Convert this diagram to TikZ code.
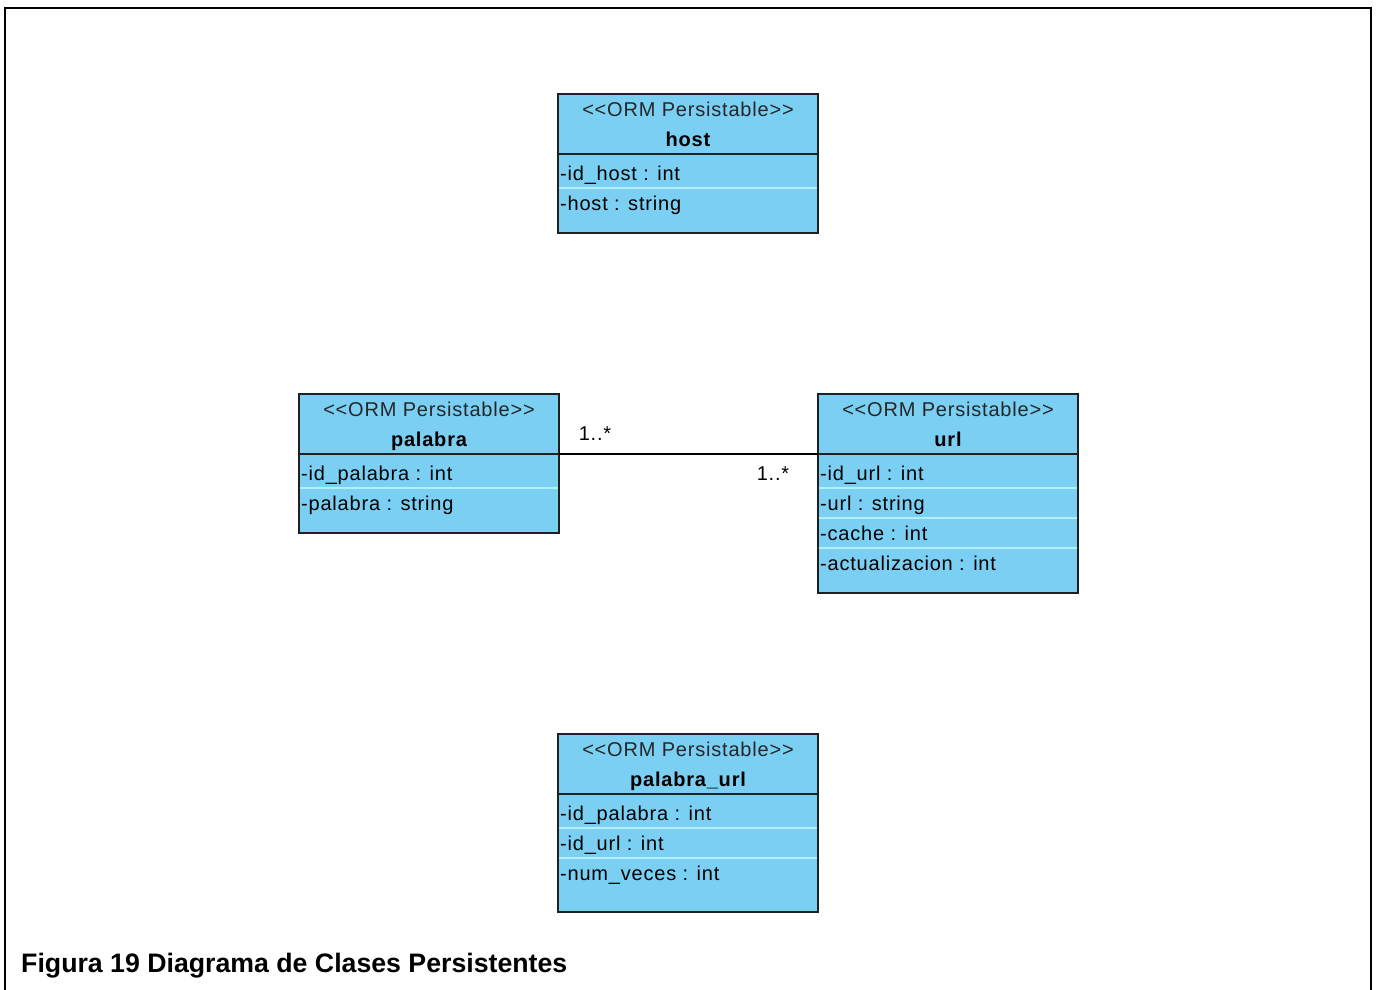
\documentclass[tikz,border=0pt]{standalone}
\usepackage{fontspec}
\setmainfont{Liberation Sans}
\newfontfamily\umlfont[LetterSpace=4]{Liberation Sans}
\usetikzlibrary{calc}

\definecolor{ormfill}{RGB}{122,207,243}
\definecolor{ormrule}{RGB}{178,240,255}
\definecolor{ormedge}{RGB}{32,32,32}

\tikzset{
  classbox/.style={fill=ormfill, draw=ormedge, line width=1.5pt, rectangle,
    minimum width=260, inner sep=0, outer sep=0, anchor=north west},
  headline/.style={draw=ormedge, line width=1.5pt},
  rowline/.style={draw=ormrule, line width=2pt},
  stereo/.style={anchor=base, inner sep=0, text=black!85,
    font=\umlfont\fontsize{20}{23}\selectfont},
  cname/.style={anchor=base, inner sep=0,
    font=\umlfont\bfseries\fontsize{20}{23}\selectfont},
  attr/.style={anchor=base west, inner sep=0,
    font=\umlfont\fontsize{20}{23}\selectfont},
  mult/.style={anchor=base, inner sep=0,
    font=\umlfont\fontsize{20}{23}\selectfont},
  assoc/.style={draw=black, line width=1.5pt},
  frame/.style={draw=black, line width=2.5pt},
  caption/.style={anchor=base west, inner sep=0,
    font=\bfseries\fontsize{26.7}{30}\selectfont}
}

% #1 node name, #2 left, #3 top, #4 height, #5 class name, #6 attributes
\newcommand{\ormclass}[6]{%
  \node[classbox, minimum height=#4] (#1) at (#2,#3) {};
  \node[stereo] (#1-st) at ($(#1.north)+(0,22)$)
    {\textless\textless ORM Persistable\textgreater\textgreater};
  \node[cname] (#1-nm) at ($(#1.north)+(0,52)$) {#5};
  \coordinate (#1-sepL) at ($(#1.north west)+(0,60)$);
  \coordinate (#1-sepR) at ($(#1.north east)+(0,60)$);
  \foreach \txt [count=\i from 0] in {#6} {
    \ifnum\i>0
      \draw[rowline] ($(#1-sepL)+(1,{4+30*\i})$) -- ($(#1-sepR)+(-1,{4+30*\i})$);
    \fi
    \node[attr] (#1-a\i) at ($(#1-sepL)+(2,{26+30*\i})$) {\txt};
  }
  \draw[headline] (#1-sepL) -- (#1-sepR);
}

\begin{document}
\begin{tikzpicture}[x=1pt, y=-1pt]
  \useasboundingbox (0,0) rectangle (1378,990);
  \fill[white] (0,0) rectangle (1378,990);

  % page frame (open at the bottom)
  \draw[frame] (5,990) -- (5,8) -- (1371,8) -- (1371,990);

  \ormclass{host}{558}{94}{139}{host}{-id\_host : int, -host : string}
  \ormclass{palabra}{299}{394}{139}{palabra}{-id\_palabra : int, -palabra : string}
  \ormclass{url}{818}{394}{199}{url}{-id\_url : int, -url : string, -cache : int, -actualizacion : int}
  \ormclass{palabraurl}{558}{734}{178}{palabra\_url}{-id\_palabra : int, -id\_url : int, -num\_veces : int}

  % association palabra -- url
  \draw[assoc] (palabra-sepR) -- (url-sepL);
  \node[mult] (mult-p) at (595,440) {1..*};
  \node[mult] (mult-u) at (773,480) {1..*};

  \node[caption] (caption) at (21,972) {Figura 19 Diagrama de Clases Persistentes};
\end{tikzpicture}
\end{document}
